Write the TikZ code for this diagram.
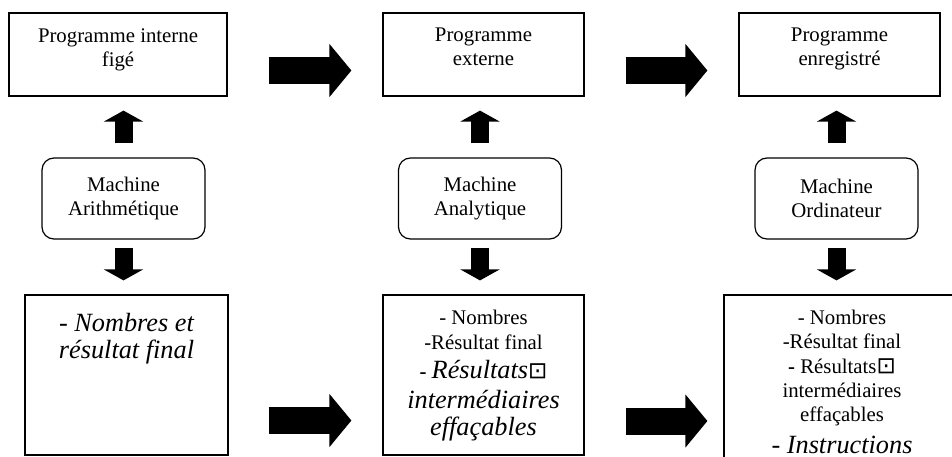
\documentclass[tikz,border=0pt]{standalone}
\usepackage{fontspec}
\setmainfont{Liberation Serif}
\newfontfamily\symfont{DejaVu Sans}
\usetikzlibrary{arrows.meta,positioning}

\newcommand{\regfont}{\fontsize{20.8}{23.5}\selectfont}
\newcommand{\itbig}[1]{{\fontsize{26.3}{28}\selectfont\itshape #1}}
\newcommand{\missglyph}{{\symfont\fontsize{23}{23}\selectfont ⊡}}

\tikzset{
  progbox/.style={draw,line width=1.2pt,minimum height=83pt,inner sep=0pt},
  machbox/.style={draw,line width=1.2pt,rounded corners=12pt,minimum width=163pt,
    minimum height=81pt,align=center,font=\regfont},
  resbox/.style={draw,line width=1.2pt,inner sep=0pt},
  boxtext/.style={anchor=north,align=center,inner sep=0pt,font=\regfont},
  bigarrow/.style={line width=27pt,-{Triangle[width=52pt,length=22pt]}},
  smallarrow/.style={line width=18pt,-{Triangle[width=39pt,length=11pt]}},
}

\begin{document}
\begin{tikzpicture}[x=1pt,y=-1pt]
\useasboundingbox (0,0) rectangle (952,457);
\clip (0,0) rectangle (952,457);
% boxes
\node[progbox,minimum width=218pt] (prog1) at (118,54.5) {};
\node[progbox,minimum width=201pt] (prog2) at (483.5,54.5) {};
\node[progbox,minimum width=201pt] (prog3) at (839.5,54.5) {};
\node[machbox] (mach1) at (123.5,198.5) {Machine\\Arithmétique};
\node[machbox] (mach2) at (480,198.5) {Machine\\Analytique};
\node[machbox] (mach3) at (836.5,198.5) {Machine\\Ordinateur};
\node[resbox,minimum width=203pt,minimum height=160pt] (res1) at (126.5,375) {};
\node[resbox,minimum width=201pt,minimum height=160pt] (res2) at (483.5,375) {};
\node[resbox,minimum width=236pt,minimum height=205pt] (res3) at (842,397.5) {};
% texts
\node[boxtext,below=16.5pt of prog1.north] (prog1txt) {Programme interne\\figé};
\node[boxtext,below=15.5pt of prog2.north] (prog2txt) {Programme\\externe};
\node[boxtext,below=15.5pt of prog3.north] (prog3txt) {Programme\\enregistré};
\node[boxtext,below=19pt of res1.north,font=\fontsize{26.3}{26.5}\selectfont\itshape]
  (res1txt) {- Nombres et\\résultat final};
\node[boxtext,below=15.5pt of res2.north,font=\fontsize{20.8}{25}\selectfont] (res2txt)
  {- Nombres\\-Résultat final\\[4pt]
   \textbf{-} \itbig{Résultats}\missglyph\\[5pt]
   \itbig{intermédiaires}\\[2pt]
   \itbig{effaçables}};
\node[boxtext,below=15.5pt of res3.north,font=\fontsize{20.8}{24.3}\selectfont] (res3txt)
  {- Nombres\\-Résultat final\\
   \textbf{-} Résultats\missglyph\\
   intermédiaires\\
   effaçables\\[7pt]
   \itbig{- Instructions}};
% arrows
\foreach \i in {1,2,3}{
  \draw[smallarrow,shorten <=14pt,shorten >=14pt] (mach\i.north) -- (mach\i.north |- prog\i.south);
  \draw[smallarrow,shorten <=8pt,shorten >=14pt] (mach\i.south) -- (mach\i.south |- res\i.north);
}
\draw[bigarrow,shorten <=41pt,shorten >=31pt] ([yshift=-16pt]prog1.east) -- ([yshift=-16pt]prog2.west);
\draw[bigarrow,shorten <=41pt,shorten >=31pt] ([yshift=-16pt]prog2.east) -- ([yshift=-16pt]prog3.west);
\draw[bigarrow,shorten <=40pt,shorten >=31pt] ([yshift=-45.5pt]res1.east) -- ([yshift=-45.5pt]res2.west);
\coordinate (r2out) at ([yshift=-46pt]res2.east);
\draw[bigarrow,shorten <=41pt,shorten >=16pt] (r2out) -- (r2out -| res3.west);
\end{tikzpicture}
\end{document}
